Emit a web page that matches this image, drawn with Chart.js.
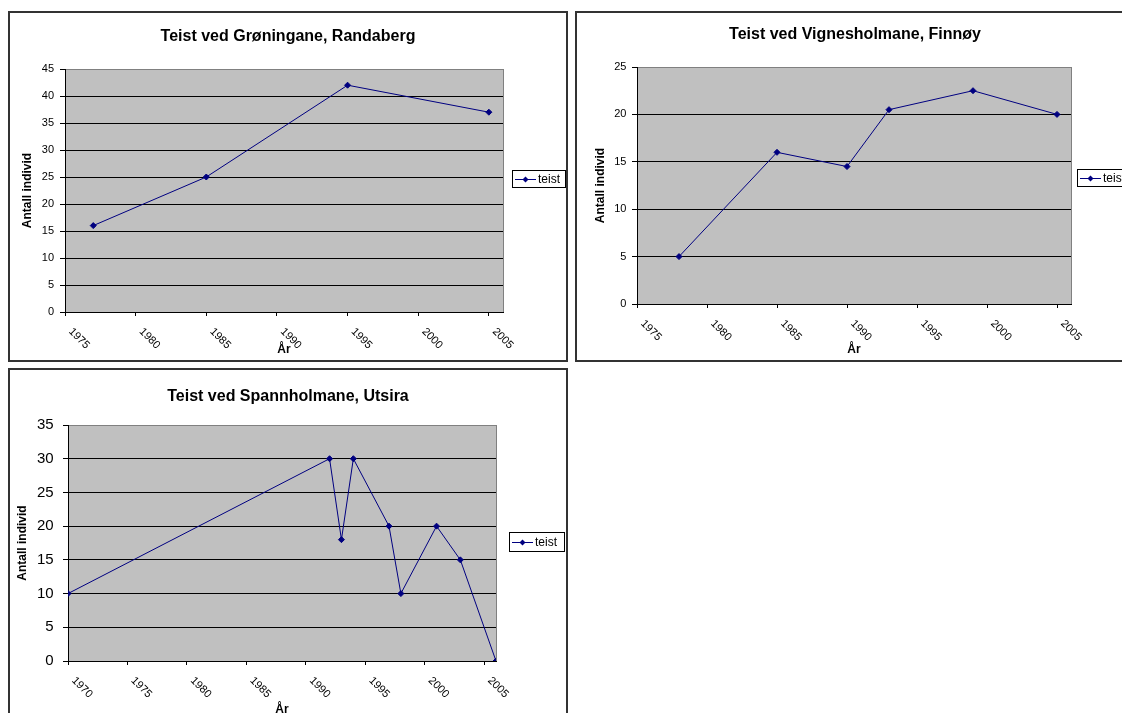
<!DOCTYPE html>
<html>
<head>
<meta charset="utf-8">
<title>Teist</title>
<script src="https://cdn.jsdelivr.net/npm/chart.js@4.4.1/dist/chart.umd.min.js"></script>
<style>
  html, body { margin: 0; padding: 0; background: #fff; overflow: hidden; width: 1122px; height: 713px; }
  .panel { position: absolute; border: 2px solid #333; width: 556px; height: 347px; background: #fff; }
  .panel canvas { display: block; }
</style>
</head>
<body>
<div class="panel" style="left:8px;top:11px"><canvas id="randaberg" width="556" height="347"></canvas></div>
<div class="panel" style="left:575px;top:11px"><canvas id="finnoy" width="556" height="347"></canvas></div>
<div class="panel" style="left:8px;top:368px"><canvas id="utsira" width="556" height="347"></canvas></div>

<script>
// Counts of black guillemot (teist) per survey year at three colonies
const seriesLabel = 'teist';

const yearsRandaberg  = [1977, 1985, 1995, 2005];
const countsRandaberg = [16, 25, 42, 37];

const yearsFinnoy  = [1978, 1985, 1990, 1993, 1999, 2005];
const countsFinnoy = [5, 16, 14.5, 20.5, 22.5, 20];

const yearsUtsira  = [1970, 1992, 1993, 1994, 1997, 1998, 2001, 2003, 2006];
const countsUtsira = [10, 30, 18, 30, 20, 10, 20, 15, 0];

const xAxisTitle = 'År';
const yAxisTitle = 'Antall individ';

const NAVY = '#000080';
const CANVAS_W = 556, CANVAS_H = 347;

Chart.defaults.font.family = 'Arial, "Liberation Sans", sans-serif';
Chart.defaults.color = '#000';

// Grey plot area with a thin grey frame
const plotFrame = {
  id: 'plotFrame',
  beforeDraw(chart) {
    const { ctx, chartArea: a } = chart;
    ctx.save();
    ctx.fillStyle = '#c0c0c0';
    ctx.fillRect(a.left, a.top, a.right - a.left, a.bottom - a.top);
    ctx.strokeStyle = '#808080';
    ctx.lineWidth = 1;
    ctx.strokeRect(Math.round(a.left) + 0.5, Math.round(a.top) + 0.5,
                   Math.round(a.right - a.left), Math.round(a.bottom - a.top));
    ctx.restore();
  }
};

// Year labels slanted downwards to the right, hanging below each tick
const slantedYearLabels = {
  id: 'slantedYearLabels',
  afterDraw(chart, args, opts) {
    const scale = chart.scales.x;
    const { ctx } = chart;
    ctx.save();
    ctx.font = opts.font;
    ctx.fillStyle = '#000';
    ctx.textAlign = 'left';
    ctx.textBaseline = 'middle';
    for (const t of scale.ticks) {
      const px = scale.getPixelForValue(t.value);
      ctx.save();
      ctx.translate(px + opts.dx, scale.top + opts.dy);
      ctx.rotate(Math.PI / 4);
      ctx.fillText(t.label, 0, 0);
      ctx.restore();
    }
    ctx.restore();
  }
};

// Boxed legend to the right of the plot
const boxedLegend = {
  id: 'boxedLegend',
  afterDraw(chart, args, opts) {
    const { ctx } = chart;
    const ds = chart.data.datasets[0];
    const { x, y, w, h } = opts;
    ctx.save();
    ctx.fillStyle = '#fff';
    ctx.fillRect(x, y, w, h);
    ctx.strokeStyle = '#000';
    ctx.lineWidth = 1;
    ctx.strokeRect(x + 0.5, y + 0.5, w, h);
    const cy = Math.round(y + h / 2) + 0.5;
    ctx.strokeStyle = ds.borderColor;
    ctx.beginPath();
    ctx.moveTo(x + 3, cy);
    ctx.lineTo(x + 24, cy);
    ctx.stroke();
    const mx = x + 13.5, r = ds.pointRadius;
    ctx.fillStyle = ds.backgroundColor;
    ctx.beginPath();
    ctx.moveTo(mx, cy - r); ctx.lineTo(mx + r, cy); ctx.lineTo(mx, cy + r); ctx.lineTo(mx - r, cy);
    ctx.closePath();
    ctx.fill();
    ctx.fillStyle = '#000';
    ctx.font = '12px Arial, "Liberation Sans", sans-serif';
    ctx.textAlign = 'left';
    ctx.textBaseline = 'middle';
    ctx.fillText(ds.label, x + 26, cy);
    ctx.restore();
  }
};

function buildChart(id, o) {
  const titleLine = 16 * 1.2;
  return new Chart(document.getElementById(id), {
    type: 'line',
    data: {
      datasets: [{
        label: seriesLabel,
        data: o.years.map((yr, i) => ({ x: yr, y: o.counts[i] })),
        borderColor: NAVY,
        backgroundColor: NAVY,
        borderWidth: 1,
        pointStyle: 'rectRot',
        pointRadius: 3,
        pointBorderWidth: 1,
        tension: 0
      }]
    },
    options: {
      responsive: false,
      animation: false,
      events: [],
      layout: { padding: 0 },
      plugins: {
        legend: { display: false },
        tooltip: { enabled: false },
        title: {
          display: true,
          text: o.title,
          color: '#000',
          font: { size: 16, weight: 'bold' },
          padding: { top: o.titleTop, bottom: o.plot.top - o.titleTop - titleLine }
        },
        slantedYearLabels: { font: '11px Arial, "Liberation Sans", sans-serif', dx: 5.3, dy: 17.8 },
        boxedLegend: o.legend
      },
      scales: {
        x: {
          type: 'linear',
          min: o.xMin,
          max: o.xMax,
          ticks: { display: false, stepSize: 5, includeBounds: false, callback: v => String(v) },
          afterBuildTicks: s => { s.ticks = s.ticks.filter(t => t.value % 5 === 0); },
          afterFit: s => { s.height = CANVAS_H - o.plot.bottom; },
          grid: { drawOnChartArea: false, drawTicks: true, tickLength: 4, color: '#000' },
          border: { color: '#000', width: 1 },
          title: {
            display: true, text: xAxisTitle, color: '#000',
            font: { size: 12, weight: 'bold' },
            padding: { top: 0, bottom: o.xTitlePad }
          }
        },
        y: {
          min: 0,
          max: o.yMax,
          ticks: { stepSize: 5, color: '#000', font: { size: o.yFont }, padding: o.yPad },
          afterFit: s => { s.width = o.plot.left; },
          grid: {
            color: c => (c.tick && c.tick.value === o.yMax) ? '#808080' : '#000',
            tickColor: '#000',
            tickLength: 5
          },
          border: { color: '#000', width: 1 },
          title: {
            display: true, text: yAxisTitle, color: '#000',
            font: { size: 12, weight: 'bold' },
            padding: { top: o.yTitlePad, bottom: 0 }
          }
        },
        // empty right-hand strip that holds the legend
        legendStrip: {
          type: 'linear',
          position: 'right',
          afterFit: s => { s.width = CANVAS_W - o.plot.right; },
          grid: { display: false, drawTicks: false },
          ticks: { display: false },
          border: { display: false },
          title: { display: false }
        }
      }
    },
    plugins: [plotFrame, slantedYearLabels, boxedLegend]
  });
}

buildChart('randaberg', {
  title: 'Teist ved Grøningane, Randaberg',
  years: yearsRandaberg, counts: countsRandaberg,
  xMin: 1975, xMax: 2006, yMax: 45,
  plot: { left: 55, right: 493, top: 56, bottom: 299 },
  titleTop: 13.9, yTitlePad: 10.8, xTitlePad: 3.3, yFont: 11, yPad: 6,
  legend: { x: 502, y: 157, w: 53, h: 17 }
});

buildChart('finnoy', {
  title: 'Teist ved Vignesholmane, Finnøy',
  years: yearsFinnoy, counts: countsFinnoy,
  xMin: 1975, xMax: 2006, yMax: 25,
  plot: { left: 60, right: 494, top: 54, bottom: 291 },
  titleTop: 12.4, yTitlePad: 16.1, xTitlePad: 3.3, yFont: 11, yPad: 5.6,
  legend: { x: 500, y: 156, w: 54, h: 17 }
});

buildChart('utsira', {
  title: 'Teist ved Spannholmane, Utsira',
  years: yearsUtsira, counts: countsUtsira,
  xMin: 1970, xMax: 2006, yMax: 35,
  plot: { left: 58, right: 486, top: 55, bottom: 291 },
  titleTop: 17.1, yTitlePad: 5.4, xTitlePad: 0, yFont: 15, yPad: 9.4,
  legend: { x: 499, y: 162, w: 55, h: 19 }
});
</script>
</body>
</html>
